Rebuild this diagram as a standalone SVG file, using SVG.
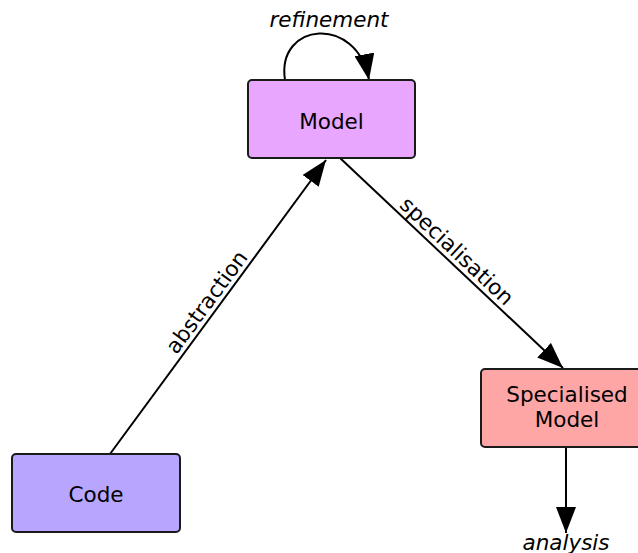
<svg xmlns="http://www.w3.org/2000/svg" width="638" height="553" viewBox="0 0 638 553">
<style>
.box{stroke:#1a1a1a;stroke-width:2}
.lbl{font-family:"DejaVu Sans",sans-serif;font-size:21.5px;fill:#000;text-anchor:middle}
.it{font-style:italic}
.edge{fill:none;stroke:#000;stroke-width:2}
</style>
<defs>
<marker id="ah" viewBox="0 -10 26 20" refX="26" refY="0" markerWidth="26" markerHeight="20" markerUnits="userSpaceOnUse" orient="auto">
<path d="M0,-10 L26,0 L0,10 z" fill="#000"/>
</marker>
</defs>
<rect width="638" height="553" fill="#fff"/>
<g id="connectors">
<path class="edge" d="M285,80 C276,22 357,14 369,80" marker-end="url(#ah)"/>
<line class="edge" x1="110" y1="454" x2="326" y2="160" marker-end="url(#ah)"/>
<line class="edge" x1="340" y1="158" x2="563" y2="368" marker-end="url(#ah)"/>
<line class="edge" x1="566" y1="447" x2="566" y2="533" marker-end="url(#ah)"/>
<text class="lbl it" x="329" y="27">refinement</text>
<text class="lbl" transform="translate(216.6,309.3) rotate(-53.6)" y="-5">abstraction</text>
<text class="lbl" transform="translate(448.4,260.1) rotate(43.3)" y="-5">specialisation</text>
<text class="lbl it" x="566" y="550">analysis</text>
</g>
<g id="model">
<rect class="box" x="248" y="80" width="167" height="78" rx="4" fill="#e9a6fe"/>
<text class="lbl" x="331.5" y="129">Model</text>
</g>
<g id="code">
<rect class="box" x="12" y="454" width="168" height="78" rx="4" fill="#b8a6fe"/>
<text class="lbl" x="96" y="502">Code</text>
</g>
<g id="specialised">
<rect class="box" x="481" y="369" width="168" height="78" rx="4" fill="#fea6a6"/>
<text class="lbl" x="567" y="402">Specialised</text>
<text class="lbl" x="567" y="427">Model</text>
</g>
</svg>
